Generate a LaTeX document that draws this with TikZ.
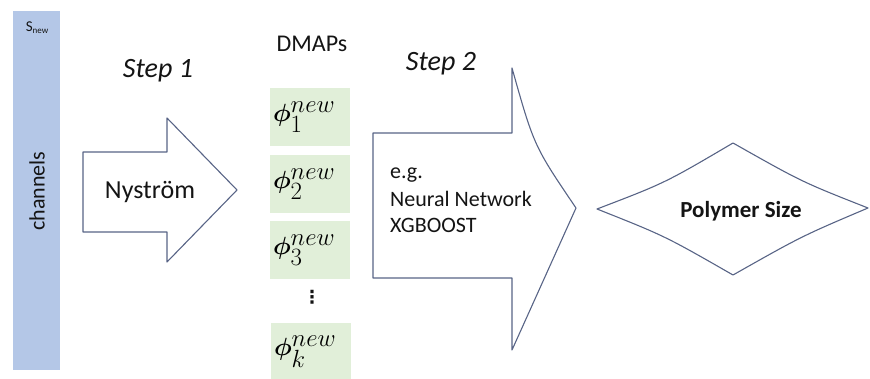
\documentclass[tikz,border=0pt]{standalone}
\usepackage{amsmath}
\usepackage{xcolor}
\usepackage{fontspec}
\setmainfont{Carlito}
\newfontfamily\symbfont{DejaVu Sans}
\definecolor{color_bleu}{rgb}{0.706,0.780,0.906}
\definecolor{color_vert}{rgb}{0.882,0.937,0.851}
\definecolor{color_trait}{rgb}{0.345,0.392,0.525}
\definecolor{color_texte}{rgb}{0.08,0.08,0.08}

\tikzset{
	forme/.style={draw=color_trait, line width=1.1pt, line join=round},
	boite/.style={fill=color_vert, minimum width=80pt, minimum height=58pt, inner sep=3pt, text width=74pt, align=left},
	texte/.style={text=color_texte, inner sep=0pt}
}

\begin{document}
\begin{tikzpicture}[x=1pt,y=-1pt]
			\useasboundingbox (0,0) rectangle (870,379);
			
			% Barre des canaux
			\fill[color_bleu] (13,11) rectangle (60,370);
			\node[texte] (snew) at (37,28) {\fontsize{15}{15}\selectfont S\raisebox{-2pt}{\fontsize{9}{9}\selectfont new}};
			\node[texte, rotate=90] (canaux) at (37,191) {\fontsize{22}{22}\selectfont channels};
			
			% Etape 1 : fleche Nystrom
			\node[texte, anchor=base] (etape1) at (158,78) {\fontsize{28}{30}\selectfont\itshape Step 1};
			\draw[forme] (83,152) -- (167,152) -- (167,118) -- (237,190) -- (167,262) -- (167,232) -- (83,232) -- cycle;
			\node[texte, anchor=base] (nystrom) at (150,199) {\fontsize{26}{28}\selectfont Nyström};
			
			% Colonne des DMAPs
			\node[texte, anchor=base] (dmaps) at (312,52) {\fontsize{24}{26}\selectfont DMAPs};
			\node[boite] (phi1) at (310,117) {\fontsize{34}{34}\selectfont $\boldsymbol{\phi}_1^{new}$};
			\node[boite] (phi2) at (310,184) {\fontsize{34}{34}\selectfont $\boldsymbol{\phi}_2^{new}$};
			\node[boite] (phi3) at (310,250) {\fontsize{34}{34}\selectfont $\boldsymbol{\phi}_3^{new}$};
			\node[texte] (points) at (312,297) {\fontsize{18}{18}\selectfont\symbfont\bfseries ⋮};
			\node[boite] (phik) at (311,352) {\fontsize{34}{34}\selectfont $\boldsymbol{\phi}_k^{new}$};
			
			% Etape 2 : grande fleche
			\node[texte, anchor=base] (etape2) at (441,71) {\fontsize{28}{30}\selectfont\itshape Step 2};
			\draw[forme] (373,133) -- (512,133) -- (512,68) .. controls (534,146) .. (576,208) -- (512,350) -- (512,278) -- (373,278) -- cycle;
			\node[texte, anchor=base west] (eg) at (390,179) {\fontsize{22}{26}\selectfont e.g.};
			\node[texte, anchor=base west] (reseau) at (390,207) {\fontsize{22}{26}\selectfont Neural Network};
			\node[texte, anchor=base west] (xgb) at (390,233) {\fontsize{22}{26}\selectfont XGBOOST};
			
			% Losange du resultat
			\draw[forme] (597,209) .. controls (665,183) .. (733,143) .. controls (802,182) .. (868,208)
				.. controls (802,236) .. (733,275) .. controls (665,236) .. cycle;
			\node[texte, anchor=base] (taille) at (741,218) {\fontsize{23}{25}\selectfont\bfseries Polymer Size};
		\end{tikzpicture}
\end{document}
